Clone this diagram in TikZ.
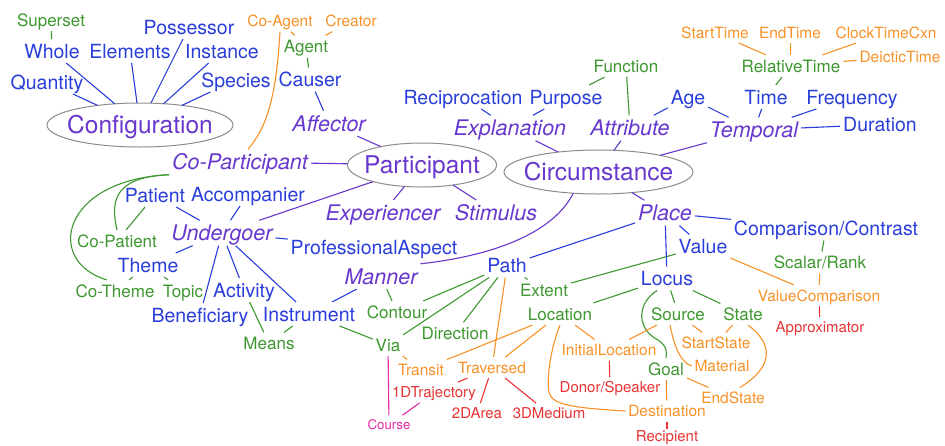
\documentclass[tikz,border=0pt]{standalone}
\usepackage{fontspec}
\setmainfont{TeX Gyre Heros}
\usetikzlibrary{shapes.geometric}
\definecolor{cblue}{RGB}{42,62,218}
\definecolor{cpurp}{RGB}{104,56,206}
\definecolor{cgreen}{RGB}{62,152,48}
\definecolor{corange}{RGB}{248,146,40}
\definecolor{cred}{RGB}{232,52,52}
\definecolor{cpink}{RGB}{228,44,164}
\definecolor{cgray}{RGB}{140,140,140}
\newcommand\myfs[1]{\fontsize{#1}{#1}\selectfont}
\begin{document}
\begin{tikzpicture}[x=1pt,y=-1pt,
 base/.style={inner xsep=3pt, inner ysep=5pt, outer sep=0pt, text depth=0pt},
 lblue/.style={base, text=cblue, font=\myfs{19.5}, text height=14pt},
 lital/.style={base, text=cpurp, font=\myfs{21.5}\itshape, text height=15.4pt},
 lgreen/.style={base, text=cgreen, font=\myfs{17}, text height=12.2pt},
 lorange/.style={base, text=corange, font=\myfs{15.5}, text height=11.1pt},
 lred/.style={base, text=cred, font=\myfs{15}, text height=10.8pt},
 lpink/.style={base, text=cpink, font=\myfs{13.3}, text height=9.5pt},
 lell/.style={ellipse, draw=cgray, line width=1pt, text=cpurp, font=\myfs{24.5},
   inner sep=0pt, outer sep=0pt, minimum height=44pt, text height=17.6pt, text depth=0pt},
 wb/.style={draw=cblue, line width=1.1pt},
 wp/.style={draw=cpurp, line width=1.1pt},
 wg/.style={draw=cgreen, line width=1.1pt},
 wo/.style={draw=corange, line width=1.1pt},
 wr/.style={draw=cred, line width=1.1pt},
 wk/.style={draw=cpink, line width=1.1pt}
]
\fill[white] (0,0) rectangle (945,445);
\useasboundingbox (0,0) rectangle (945,445);

% ellipses
\node[lell, minimum width=186pt] (config) at (140,125) {\makebox[0pt]{Configuration}};
\node[lell, minimum width=149pt] (particip) at (422,165) {\makebox[0pt]{Participant}};
\node[lell, minimum width=189pt] (circ) at (598.5,172) {\makebox[0pt]{Circumstance}};

% configuration side
\node[lgreen] (superset) at (51,20) {Superset};
\node[lblue] (whole) at (52,51) {Whole};
\node[lblue] (elements) at (130,51) {Elements};
\node[lblue] (possessor) at (189,27) {Possessor};
\node[lblue] (instance) at (222,51) {Instance};
\node[lblue] (quantity) at (47,82) {Quantity};
\node[lblue] (species) at (236,80) {Species};

% participant side
\node[lorange] (coagent) at (280,21) {Co-Agent};
\node[lorange] (creator) at (351,21) {Creator};
\node[lgreen] (agent) at (306,46.5) {Agent};
\node[lblue] (causer) at (310,79.5) {Causer};
\node[lital] (affector) at (329,123.5) {Affector};
\node[lital] (copart) at (240,162) {Co-Participant};
\node[lblue] (patient) at (155,195) {Patient};
\node[lblue] (accomp) at (248,194) {Accompanier};
\node[lital] (undergoer) at (222,233) {Undergoer};
\node[lgreen] (copatient) at (117,241) {Co-Patient};
\node[lblue] (theme) at (148,265) {Theme};
\node[lgreen] (cotheme) at (115,291) {Co-Theme};
\node[lgreen] (topic) at (183,291) {Topic};
\node[lblue] (profasp) at (374,247) {ProfessionalAspect};
\node[lblue] (activity) at (244,290) {Activity};
\node[lblue] (benef) at (200,315) {Beneficiary};
\node[lblue] (instrument) at (309,314) {Instrument};
\node[lgreen] (means) at (269,343.5) {Means};
\node[lital] (experiencer) at (383,212.7) {Experiencer};
\node[lital] (stimulus) at (496,212.7) {Stimulus};

% manner / path
\node[lital] (manner) at (381,276.5) {Manner};
\node[lgreen] (contour) at (397,312) {Contour};
\node[lgreen] (via) at (388,345) {Via};
\node[lgreen] (direction) at (455,333.5) {Direction};
\node[lblue] (path) at (507,265.5) {Path};
\node[lgreen] (extent) at (544,290.5) {Extent};
\node[lorange] (transit) at (421,370) {Transit};
\node[lorange] (traversed) at (492,367.5) {Traversed};
\node[lpink] (course) at (389,425) {Course};
\node[lred] (traj) at (434,392.5) {1DTrajectory};
\node[lred] (area) at (477,413.5) {2DArea};
\node[lred] (medium) at (549,413.5) {3DMedium};

% place
\node[lital] (place) at (665,213) {Place};
\node[lblue] (value) at (703,246.5) {Value};
\node[lblue] (locus) at (667,278.5) {Locus};
\node[lblue] (compcon) at (826,228.5) {Comparison/Contrast};
\node[lgreen] (scalar) at (820,262.5) {Scalar/Rank};
\node[lorange] (valuecomp) at (819,295.5) {ValueComparison};
\node[lred] (approx) at (820,327.5) {Approximator};
\node[lgreen] (location) at (560,314) {Location};
\node[lgreen] (source) at (678,314) {Source};
\node[lgreen] (state) at (743,314) {State};
\node[lgreen] (goal) at (666,369) {Goal};
\node[lorange] (initloc) at (609,350) {InitialLocation};
\node[lred] (donor) at (610,387.5) {Donor/Speaker};
\node[lorange] (destination) at (667,411) {Destination};
\node[lred, inner ysep=2pt] (recipient) at (667,436.5) {Recipient};
\node[lorange] (startstate) at (716,343) {StartState};
\node[lorange] (material) at (722,366) {Material};
\node[lorange] (endstate) at (733,398) {EndState};

% circumstance top
\node[lital] (explanation) at (510,128) {Explanation};
\node[lblue] (recip) at (463,97) {Reciprocation};
\node[lblue] (purpose) at (566,97) {Purpose};
\node[lgreen] (function) at (626,66) {Function};
\node[lital] (attribute) at (630,128) {Attribute};
\node[lblue] (age) at (688,97) {Age};
\node[lblue] (time) at (766,97) {Time};
\node[lblue] (frequency) at (852,97) {Frequency};
\node[lital] (temporal) at (754,130) {Temporal};
\node[lblue] (duration) at (880,124.5) {Duration};
\node[lgreen] (reltime) at (791,66) {RelativeTime};
\node[lorange] (starttime) at (715,32.5) {StartTime};
\node[lorange] (endtime) at (790,32.5) {EndTime};
\node[lorange] (clocktime) at (886,32.5) {ClockTimeCxn};
\node[lorange] (deictic) at (900,56.5) {DeicticTime};

% ---- connectors ----
\draw[wg] (superset) -- (whole);
\foreach \n in {whole,elements,possessor,instance,quantity,species}
  \draw[wb] (\n) -- (config);

\draw[wo] (coagent) -- (agent);
\draw[wo] (creator) -- (agent);
\draw[wg] (agent) -- (causer);
\draw[wb] (causer) -- (affector);
\draw[wp] (affector) -- (particip);
\draw[wo] (coagent.south) .. controls (276,100) and (266,128) .. ([xshift=8pt]copart.north);
\draw[wp] (copart) -- (particip);
\draw[wg] (copart.south west) .. controls (115,177) and (110,200) .. (copatient.north);
\draw[wg] (copart.south west) .. controls (60,180) and (45,262) .. ([xshift=-8pt]cotheme.north);
\draw[wg] (patient) -- (copatient);
\draw[wb] (patient) -- (undergoer);
\draw[wb] (accomp) -- (undergoer);
\draw[wp] (undergoer) -- (particip);
\draw[wb] (undergoer) -- (theme);
\draw[wg] (theme) -- (cotheme);
\draw[wg] (theme) -- (topic);
\draw[wb] (undergoer) -- (profasp);
\draw[wb] (undergoer) -- (benef);
\draw[wb] (undergoer) -- (activity);
\draw[wb] (undergoer) -- (instrument);
\draw[wg] (activity) -- (means);
\draw[wg] (instrument) -- (means);
\draw[wg] (instrument) -- (via);
\draw[wb] (manner) -- (instrument);
\draw[wg] (manner) -- (contour);
\draw[wp] (manner.north east) .. controls (500,255) and (555,230) .. (circ.220);
\draw[wp] (particip) -- (experiencer);
\draw[wp] (particip) -- (stimulus);

\draw[wg] (path) -- (contour);
\draw[wg] (path) -- (via);
\draw[wg] (path) -- (direction);
\draw[wo] (path) -- (traversed);
\draw[wg] (path) -- (extent);
\draw[wb] (path) -- (place);
\draw[wg] (extent) -- (value);
\draw[wp] (place) -- (circ);
\draw[wb] (place) -- (value);
\draw[wb] (place) -- (locus);
\draw[wb] (place) -- (compcon);
\draw[wg] (compcon) -- (scalar);
\draw[wo] (scalar) -- (valuecomp);
\draw[wo] (value) -- (valuecomp);
\draw[wr] (valuecomp) -- (approx);

\draw[wg] (locus) -- (location);
\draw[wg] (locus) -- (source);
\draw[wg] (locus) -- (state);
\draw[wg] ([xshift=-10pt]locus.south) .. controls (635,305) and (638,330) .. (658,340)
   .. controls (667,346) and (667,352) .. (goal.north);
\draw[wo] (source) -- (initloc);
\draw[wo] (location) -- (initloc);
\draw[wr] (initloc) -- (donor);
\draw[wo] (location) -- (transit);
\draw[wo] (location) -- (traversed);
\draw[wo] (via) -- (transit);
\draw[wk] (via) -- (course);
\draw[wk] (course) -- (traj);
\draw[wr] (traversed) -- (traj);
\draw[wr] (traversed) -- (area);
\draw[wr] (traversed) -- (medium);
\draw[wo] (location.south) .. controls (552,345) and (546,375) .. (549,392)
   .. controls (551,405) and (575,408) .. (destination.west);
\draw[wo] (goal) -- (destination);
\draw[wr] (destination) -- (recipient);
\draw[wo] (source) -- (startstate);
\draw[wo] (state) -- (startstate);
\draw[wo] ([xshift=-8pt]source.south) .. controls (674,345) and (680,362) .. (material.west);
\draw[wo] (goal) -- (endstate);
\draw[wo] ([xshift=5pt]state.south) .. controls (775,345) and (772,368) .. ([xshift=7pt]endstate.north);

\draw[wp] (explanation) -- (circ);
\draw[wb] (recip) -- (explanation);
\draw[wb] (purpose) -- (explanation);
\draw[wg] (purpose) -- (function);
\draw[wg] (function) -- (attribute);
\draw[wp] (attribute) -- (circ);
\draw[wb] (age) -- (attribute);
\draw[wb] (age) -- (temporal);
\draw[wb] (time) -- (temporal);
\draw[wg] (time) -- (reltime);
\draw[wb] (frequency) -- (temporal);
\draw[wb] (temporal) -- (duration);
\draw[wp] (temporal) -- (circ);
\draw[wo] (starttime) -- (reltime);
\draw[wo] (endtime) -- (reltime);
\draw[wo] (clocktime) -- (reltime);
\draw[wo] (deictic) -- (reltime);
\end{tikzpicture}
\end{document}
